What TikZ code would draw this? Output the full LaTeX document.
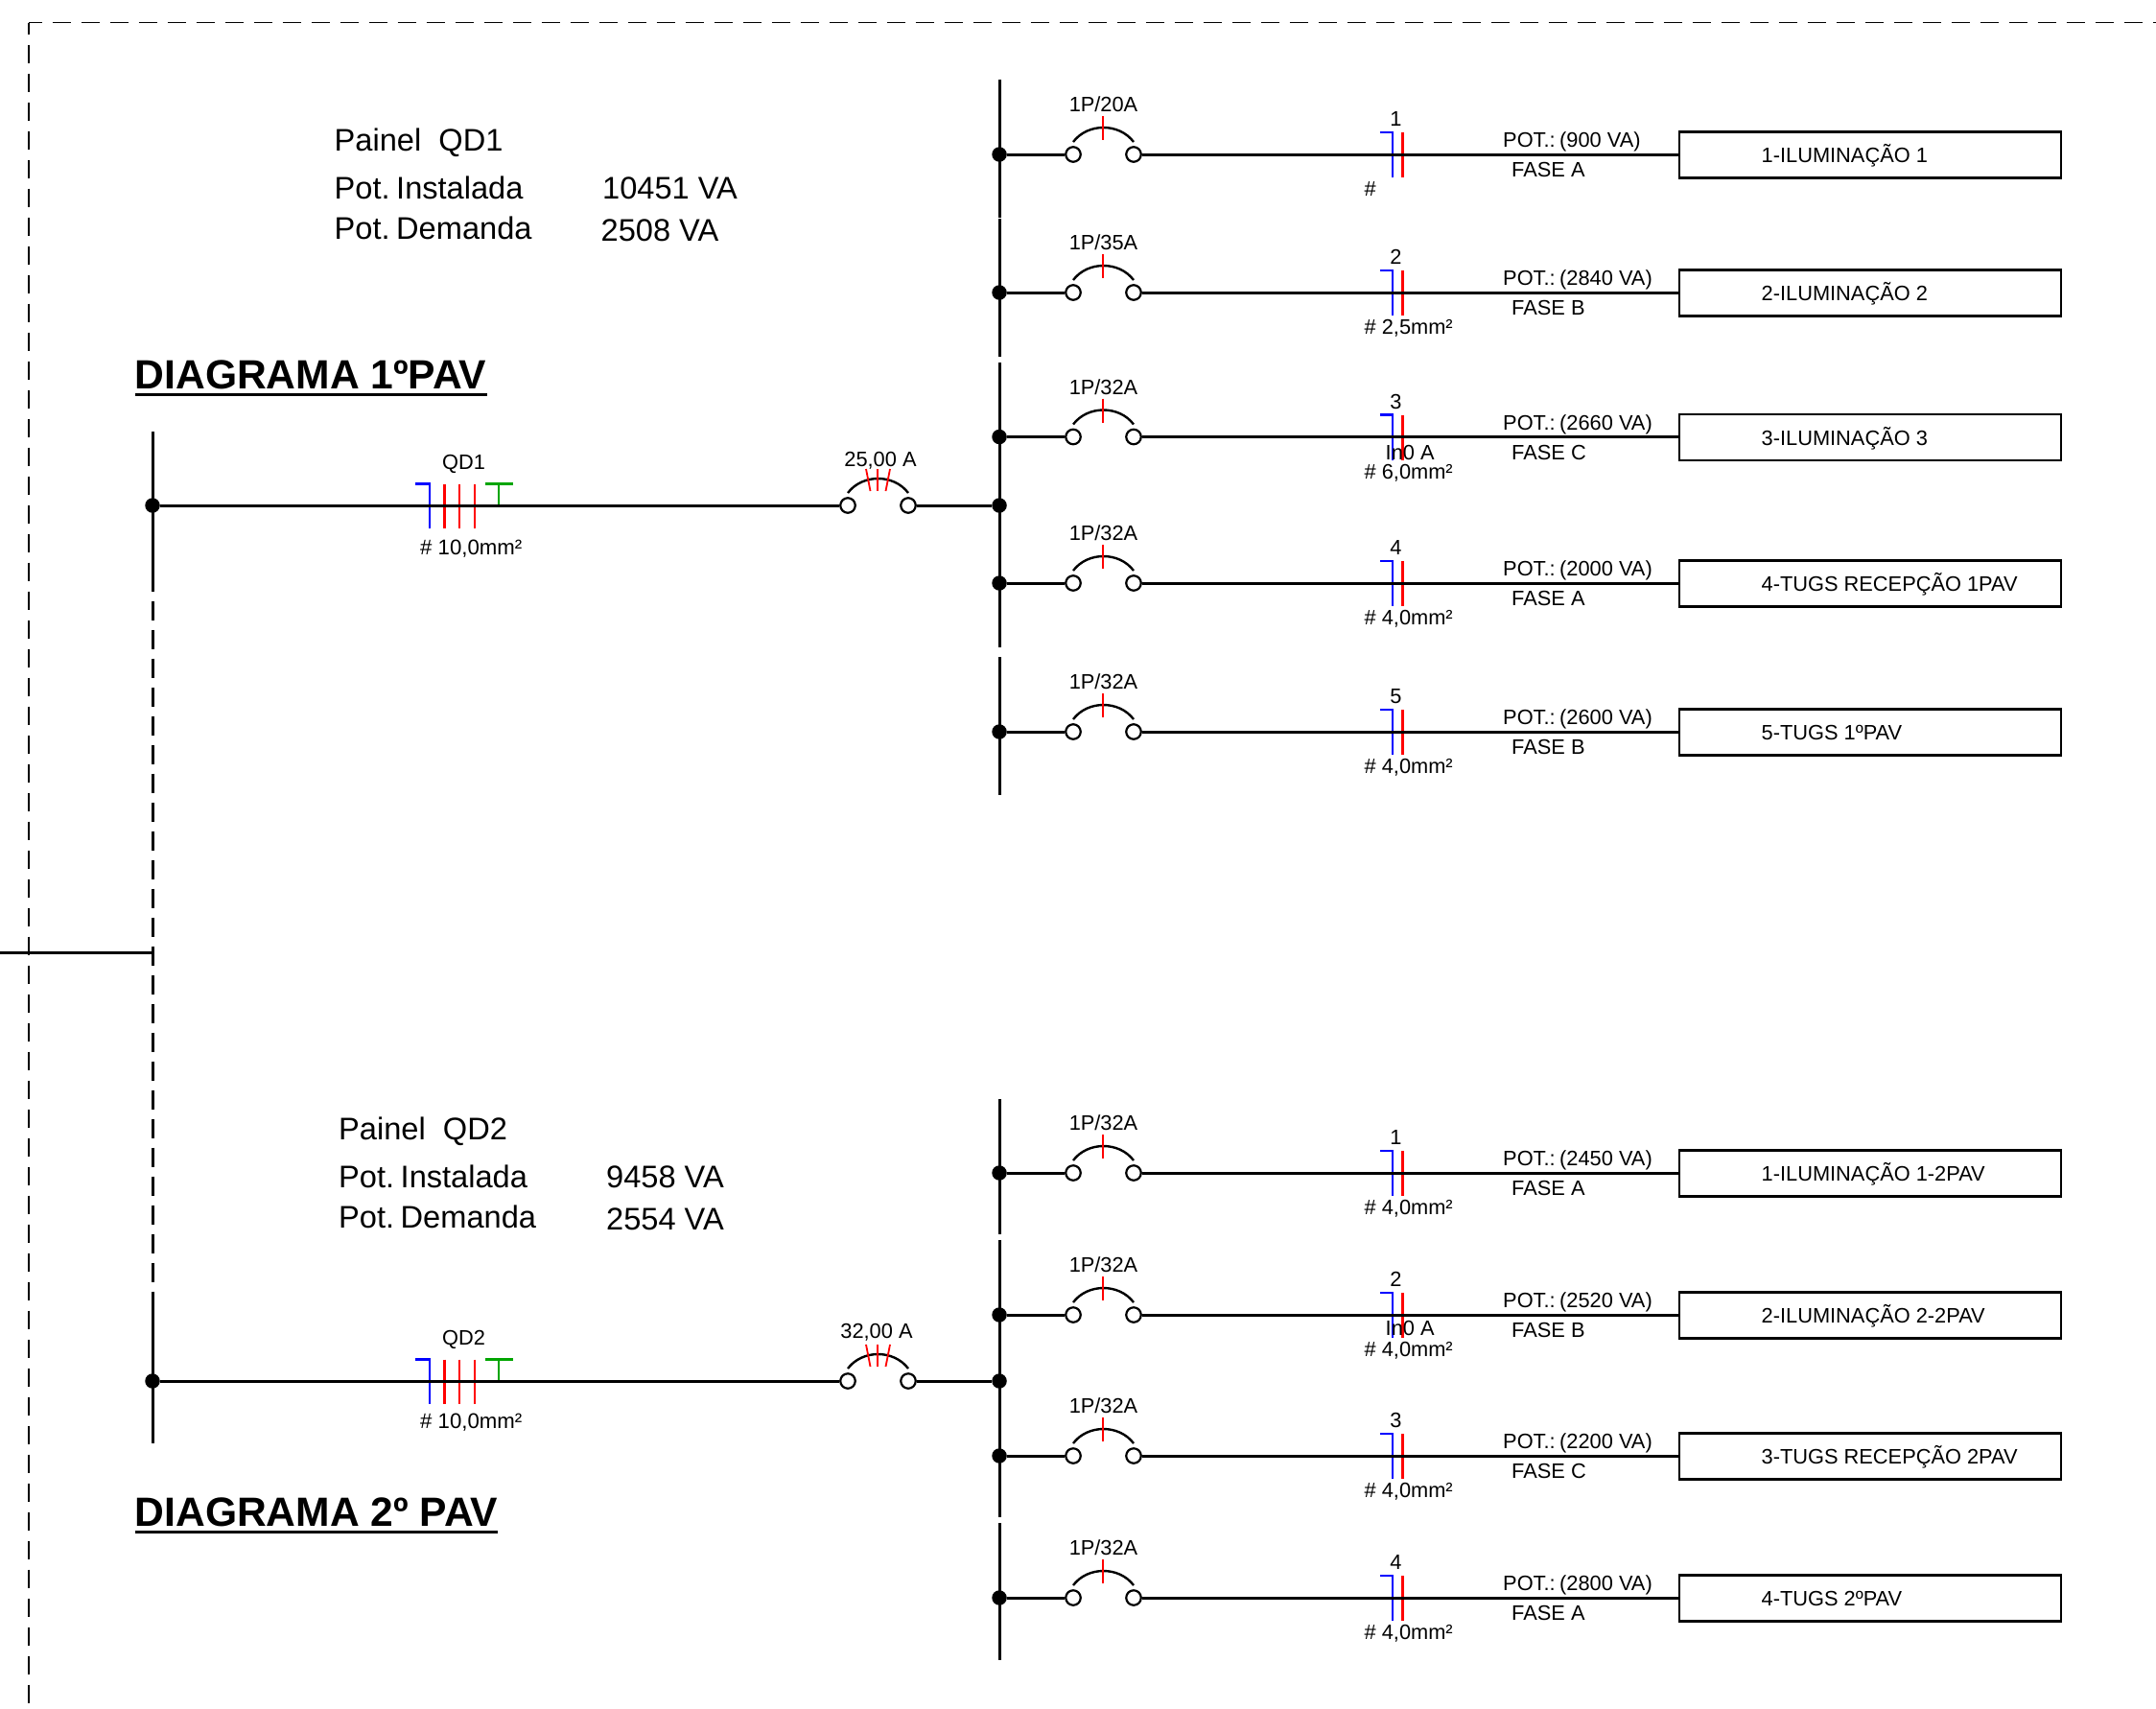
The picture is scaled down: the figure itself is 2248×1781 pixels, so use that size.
\documentclass[tikz,border=0pt]{standalone}
\usepackage{fontspec}
\setmainfont{Liberation Sans}
\newcommand{\fs}[1]{\fontsize{#1}{#1}\selectfont}
\definecolor{cablegreen}{RGB}{0,165,0}
\tikzset{
  x=1pt,y=-1pt,
  wire/.style={line width=3pt,black},
  frameline/.style={line width=1.5pt,black,dash pattern=on 19.5pt off 10.5pt},
  busdash/.style={line width=3pt,black,dash pattern=on 20pt off 10pt},
  neutral/.style={line width=2.2pt,blue},
  phase/.style={line width=2.2pt,red},
  earth/.style={line width=2.2pt,cablegreen},
  joint/.style={circle,fill=black,inner sep=0pt,minimum size=15.5pt},
  terminal/.style={circle,draw=black,fill=white,line width=2.2pt,inner sep=0pt,minimum size=15.5pt},
  smalltxt/.style={font=\fs{21.8},inner sep=0pt,text height=15.5pt,text depth=0pt},
  paneltxt/.style={font=\fs{32.6},inner sep=0pt,anchor=west,text height=23pt,text depth=0pt},
  titletxt/.style={font=\bfseries\fs{42.6},inner sep=0pt,anchor=west,text height=30pt,text depth=0pt},
  loadbox/.style={draw=black,line width=2.4pt,fill=white,minimum width=398pt,minimum height=48pt,inner sep=0pt,anchor=west},
}
% breaker arc between two named terminals
\newcommand{\brkarc}[2]{%
  \draw[line width=2.4pt] ([yshift=13pt]#1.center) .. controls +(15,-20) and +(-15,-20) .. ([yshift=13pt]#2.center);
}
% id, y, breaker, number, section text, power, phase, load
\newcommand{\brow}[8]{
  \node[joint] (#1d) at (1042,#2) {};
  \draw[neutral] (1438.5,#2-23) -- (1452,#2-23) -- (1452,#2+24);
  \draw[phase] (1462.5,#2-23) -- (1462.5,#2+24);
  \node[terminal] (#1a) at (1119,#2) {};
  \node[terminal] (#1b) at (1182,#2) {};
  \node[loadbox] (#1x) at (1750,#2+0.5) {};
  \draw[wire] (#1d) -- (#1a);
  \draw[wire] (#1b) -- (#1x.west |- #1b);
  \brkarc{#1a}{#1b}
  \draw[phase] (1150,#2-40) -- (1150,#2-15);
  \node[smalltxt,anchor=center] (#1k) at (1150.5,#2-52) {#3};
  \node[smalltxt,anchor=center] (#1n) at (1455.5,#2-37) {#4};
  \node[smalltxt,anchor=west] (#1s) at (1422.5,#2+36) {#5};
  \node[smalltxt,anchor=west] (#1p) at (1567,#2-15) {POT.:\hspace{4.5pt}(#6 VA)};
  \node[smalltxt,anchor=west] (#1f) at (1576,#2+16) {#7};
  \node[smalltxt,anchor=west] (#1t) at (1836.5,#2+1) {#8};
}
% id, y, name, section y, breaker label, label x, label y
\newcommand{\feeder}[7]{
  \node[joint] (#1d) at (159,#2) {};
  \draw[neutral] (433,#2-22.5) -- (447.6,#2-22.5) -- (447.6,#2+23.5);
  \draw[phase] (463.5,#2-22.5) -- (463.5,#2+23.5);
  \draw[phase] (479,#2-22.5) -- (479,#2+23.5);
  \draw[phase] (495,#2-22.5) -- (495,#2+23.5);
  \draw[earth] (520,#2-22.5) -- (520,#2);
  \draw[earth,line width=2.8pt] (506,#2-22.5) -- (534.5,#2-22.5);
  \node[terminal] (#1a) at (884,#2) {};
  \node[terminal] (#1b) at (947,#2) {};
  \node[joint] (#1e) at (1042,#2) {};
  \draw[wire] (#1d) -- (#1a);
  \draw[wire] (#1b) -- (#1e);
  \brkarc{#1a}{#1b}
  \draw[phase,line width=1.8pt] (903,#2-38) -- (907.5,#2-15);
  \draw[phase,line width=1.8pt] (915,#2-38) -- (915,#2-15);
  \draw[phase,line width=1.8pt] (928,#2-38) -- (923.5,#2-15);
  \node[smalltxt,anchor=center] (#1q) at (483.5,#2-45) {#3};
  \node[smalltxt,anchor=west] (#1s) at (438,#2+#4) {\fs{22.2}\# 10,0mm²};
  \node[smalltxt,anchor=center] (#1k) at (#6,#2+#7) {#5};
}
\begin{document}
\begin{tikzpicture}
\useasboundingbox (0,0) rectangle (2248,1781);
\fill[white] (0,0) rectangle (2248,1781);

% dashed frame
\coordinate (fc) at (30,23.5);
\coordinate (fr) at (2248,23.5);
\coordinate (fb) at (30,1781);
\draw[frameline,dash phase=5.5pt] (fc) -- (fr);
\draw[frameline,dash phase=7pt] (fc) -- (fb);

% buses
\coordinate (l1t) at (159,450); \coordinate (l1e) at (159,617);
\coordinate (ldt) at (159,626.5); \coordinate (l2t) at (159,1363); \coordinate (l2e) at (159,1505);
\coordinate (in0) at (0,993); \coordinate (in1) at (159,993);
\draw[wire] (l1t) -- (l1e);
\draw[busdash] (ldt) -- (l2t);
\draw[wire] (l2t) -- (l2e);
\draw[wire] (in0) -- (in1);

\foreach \ta/\tb in {83/227,228/372,378/675,685/829,1146/1287,1293/1582,1588/1731}{
  \draw[wire] (1042,\ta) -- (1042,\tb);
}

\feeder{fa}{527}{QD1}{43.5}{25,00 A}{918}{-48}
\feeder{fb}{1440}{QD2}{42}{32,00 A}{914}{-52}

\brow{a}{161}{1P/20A}{1}{\#}{900}{FASE A}{1-ILUMINAÇÃO 1}
\brow{b}{305}{1P/35A}{2}{\# 2,5mm²}{2840}{FASE B}{2-ILUMINAÇÃO 2}
\brow{c}{455.5}{1P/32A}{3}{\# 6,0mm²}{2660}{FASE C}{3-ILUMINAÇÃO 3}
\brow{d}{608}{1P/32A}{4}{\# 4,0mm²}{2000}{FASE A}{4-TUGS RECEPÇÃO 1PAV}
\brow{e}{763}{1P/32A}{5}{\# 4,0mm²}{2600}{FASE B}{5-TUGS 1ºPAV}
\brow{f}{1223}{1P/32A}{1}{\# 4,0mm²}{2450}{FASE A}{1-ILUMINAÇÃO 1-2PAV}
\brow{g}{1371}{1P/32A}{2}{\# 4,0mm²}{2520}{FASE B}{2-ILUMINAÇÃO 2-2PAV}
\brow{h}{1518}{1P/32A}{3}{\# 4,0mm²}{2200}{FASE C}{3-TUGS RECEPÇÃO 2PAV}
\brow{i}{1666}{1P/32A}{4}{\# 4,0mm²}{2800}{FASE A}{4-TUGS 2ºPAV}

\node[smalltxt,anchor=west] (cin) at (1444.5,472) {In0 A};
\node[smalltxt,anchor=west] (gin) at (1444.5,1385) {In0 A};

% panel texts
\node[paneltxt] (p1a) at (348.5,146) {Painel\ \ QD1};
\node[paneltxt] (p1b) at (348.5,196) {Pot.\hspace{6.5pt}Instalada};
\node[paneltxt] (p1c) at (348.5,238) {Pot.\hspace{6.5pt}Demanda};
\node[paneltxt] (p1d) at (628,196) {10451 VA};
\node[paneltxt] (p1e) at (626.5,240) {2508 VA};
\node[paneltxt] (p2a) at (353,1177) {Painel\ \ QD2};
\node[paneltxt] (p2b) at (353,1227) {Pot.\hspace{6.5pt}Instalada};
\node[paneltxt] (p2c) at (353,1269) {Pot.\hspace{6.5pt}Demanda};
\node[paneltxt] (p2d) at (632,1227) {9458 VA};
\node[paneltxt] (p2e) at (632,1271) {2554 VA};

% titles
\node[titletxt] (t1) at (140.5,390) {DIAGRAMA 1ºPAV};
\node[titletxt] (t2) at (140.5,1576) {DIAGRAMA 2º PAV};
\draw[line width=3pt] ([yshift=-6pt]t1.south west) -- ([yshift=-6pt]t1.south east);
\draw[line width=3pt] ([yshift=-6pt]t2.south west) -- ([yshift=-6pt]t2.south east);
\end{tikzpicture}
\end{document}
